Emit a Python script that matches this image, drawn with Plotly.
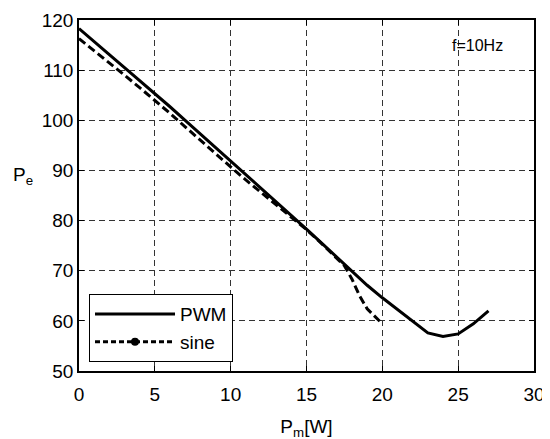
import plotly.graph_objects as go

# PWM curve
pwm_x = [0, 1, 2, 3, 4, 5, 6, 7, 8, 9, 10, 11, 12, 13, 14, 15, 16, 17, 18, 19, 20,
         21, 22, 23, 24, 25, 26, 27]
pwm_y = [118.3, 115.6, 113.1, 110.5, 107.9, 105.4, 102.7, 100.0, 97.3, 94.5, 91.8,
         89.1, 86.4, 83.7, 81.0, 78.3, 75.5, 72.7, 69.9, 67.1, 64.6, 62.3, 59.9,
         57.6, 56.9, 57.4, 59.4, 62.0]

# sine curve
sine_x = [0, 1, 2, 3, 4, 5, 6, 7, 8, 9, 10, 11, 12, 13, 14, 15, 16, 17, 17.5,
          18, 18.5, 19, 20]
sine_y = [116.3, 113.9, 111.5, 109.0, 106.5, 104.0, 101.4, 98.7, 96.0, 93.3, 90.7,
          88.1, 85.6, 83.1, 80.7, 78.2, 75.4, 72.6, 71.0, 68.3, 65.0, 62.4, 59.4]

x_ticks = [0, 5, 10, 15, 20, 25, 30]
y_ticks = [50, 60, 70, 80, 90, 100, 110, 120]

FONT = "Liberation Sans, Arial, sans-serif"

fig = go.Figure()

fig.add_trace(go.Scatter(
    x=pwm_x, y=pwm_y, mode="lines", name="PWM",
    line=dict(color="black", width=3),
))
fig.add_trace(go.Scatter(
    x=sine_x, y=sine_y, mode="lines", name="sine", showlegend=False,
    line=dict(color="black", width=3, dash="8px,4px"),
))
# legend entry for sine (line with dot marker)
fig.add_trace(go.Scatter(
    x=[None], y=[None], mode="lines+markers", name="sine",
    line=dict(color="black", width=3, dash="5px,3px"),
    marker=dict(color="black", size=8),
))

axis_common = dict(
    showline=True, linecolor="black", linewidth=1.5, mirror="ticks",
    ticks="inside", ticklen=5, tickcolor="black",
    showgrid=True, gridcolor="#333", gridwidth=1, griddash="6px,4px",
    zeroline=False, automargin=False,
    tickfont=dict(family=FONT, size=19, color="black"),
)

fig.update_xaxes(
    range=[0, 30], tickvals=x_ticks, ticklabelstandoff=5,
    title=dict(text="P<sub>m</sub>[W]", font=dict(family=FONT, size=19, color="black"),
               standoff=16),
    **axis_common,
)
fig.update_yaxes(range=[50, 120], tickvals=y_ticks, **axis_common)

fig.add_annotation(
    text="P<sub>e</sub>", xref="paper", yref="paper", x=-0.15, y=0.555,
    showarrow=False, font=dict(family=FONT, size=19, color="black"),
)
fig.add_annotation(
    text="f=10Hz", x=26.3, y=115.0, showarrow=False,
    font=dict(family=FONT, size=16, color="black"),
)

# page body adds an 8px offset, so margins are shifted to compensate
fig.update_layout(
    width=550, height=439,
    margin=dict(l=71, r=24, t=12, b=76),
    paper_bgcolor="white", plot_bgcolor="white",
    legend=dict(
        x=0.022, y=0.025, xanchor="left", yanchor="bottom",
        bgcolor="white", bordercolor="black", borderwidth=1,
        font=dict(family=FONT, size=19, color="black"),
        itemwidth=80, tracegroupgap=4,
    ),
)

fig.write_html("out.html")
